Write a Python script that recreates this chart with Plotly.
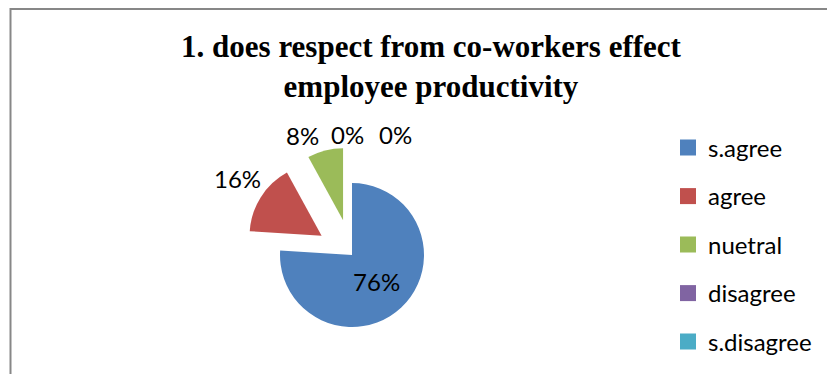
import plotly.graph_objects as go

# ---- data ----
labels = ["s.agree", "agree", "nuetral", "disagree", "s.disagree"]
values = [19, 4, 2, 0, 0]
colors = ["#4F81BD", "#C0504D", "#9BBB59", "#8064A2", "#4BACC6"]
pulls = [0, 0.5, 0.5, 0.5, 0.5]
title_text = "1. does respect from co-workers effect<br>employee productivity"

total = sum(values)
pct = [f"{round(v / total * 100)}%" for v in values]
is_inside = [v / total > 0.5 for v in values]
slice_text = [t if inside else "" for t, inside in zip(pct, is_inside)]

W, H = 827, 374
label_font = dict(family="Lato, Carlito, sans-serif", size=24, color="#000000")

fig = go.Figure()
fig.add_trace(go.Pie(
    labels=labels, values=values, text=slice_text, textinfo="text",
    textposition="inside", insidetextorientation="horizontal",
    marker=dict(colors=colors, line=dict(width=0)),
    pull=pulls, sort=False, direction="clockwise", rotation=0,
    textfont=label_font, showlegend=False, hoverinfo="label+percent",
    domain=dict(x=[(352 - 108) / W, (352 + 108) / W],
                y=[(H - 255 - 108) / H, (H - 255 + 108) / H]),
))

# legend entries: one small legend per row so rows can be spaced like the original
legend_layout = {}
for i, (lab, col) in enumerate(zip(labels, colors)):
    key = "legend" if i == 0 else f"legend{i + 1}"
    fig.add_trace(go.Scatter(
        x=[None], y=[None], mode="markers", name=lab, legend=key,
        marker=dict(symbol="square", size=16, color=col), hoverinfo="skip",
    ))
    legend_layout[key] = dict(
        x=668 / W, xanchor="left", y=1 - (148 + 48.5 * i) / H, yanchor="middle",
        font=dict(family="Lato, Carlito, sans-serif", size=24, color="#000000"),
        bgcolor="rgba(0,0,0,0)", itemclick=False, itemdoubleclick=False,
    )

# outside data labels for the small / zero slices (label placement as in the original)
outside_pos = {1: (237, 178), 2: (302, 135), 3: (347, 134), 4: (395, 134)}
for i, (lx, ly) in outside_pos.items():
    fig.add_annotation(x=lx / W, y=1 - ly / H, xref="paper", yref="paper",
                       text=pct[i], showarrow=False, font=label_font,
                       xanchor="center", yanchor="middle")

fig.add_shape(type="rect", xref="paper", yref="paper",
              x0=10.5 / W, x1=1.02, y0=-0.02, y1=1 - 9 / H,
              line=dict(color="#878787", width=2), fillcolor="rgba(0,0,0,0)")

fig.update_layout(
    width=W, height=H,
    margin=dict(l=0, r=0, t=0, b=0, autoexpand=False),
    paper_bgcolor="white", plot_bgcolor="white",
    title=dict(text=title_text, x=431 / W, xanchor="center",
               y=1 - 57 / H, yanchor="top",
               font=dict(family="Liberation Serif, Times New Roman, serif",
                         size=31, color="#000000", weight="bold")),
    xaxis=dict(visible=False), yaxis=dict(visible=False),
    **legend_layout,
)

fig.write_html("out.html")
